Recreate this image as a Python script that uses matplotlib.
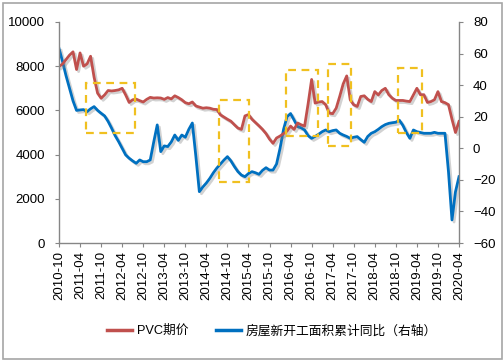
import matplotlib
matplotlib.use("Agg")
import matplotlib.pyplot as plt
import matplotlib.patheffects as pe
from matplotlib.patches import Rectangle
import numpy as np

plt.rcParams['font.family'] = ['Liberation Sans', 'Noto Sans CJK SC', 'DejaVu Sans']

# monthly, index 0 = 2010-10 ... 114 = 2020-04
pvc_price = [7980, 8100, 8300, 8500, 8650, 7850, 8600, 8000, 8100, 8450,
             7500, 6780, 6550, 6700, 6900, 6880, 6900, 6930, 7000, 6700,
             6360, 6480, 6510, 6440, 6380, 6500, 6590, 6560, 6570, 6560,
             6500, 6580, 6520, 6660, 6580, 6480, 6350, 6300, 6380, 6200,
             6150, 6100, 6120, 6100, 6050, 6040, 5800, 5700, 5600, 5510,
             5350, 5200, 5140, 5750, 5810, 5600, 5450, 5300, 5140, 4950,
             4700, 4510, 4750, 4840, 4950, 5060, 5290, 5140, 5430, 5350,
             5290, 6300, 7400, 6330, 6380, 6400, 6260, 5880, 5850, 6100,
             6630, 7200, 7560, 6480, 6250, 6180, 6630, 6660, 6500, 6400,
             6850, 6700, 6900, 7000, 6710, 6550, 6450, 6450, 6450, 6420,
             6400, 6700, 7000, 6710, 6710, 6360, 6400, 6480, 6850, 6400,
             6350, 6260, 5600, 5000, 5500]

housing_yoy = [63.3, 55, 46, 38, 30, 24, 24.3, 24.5, 23.2, 25,
               26.4, 24, 22.2, 20.5, 17, 12.7, 8, 4.2, 0, -4.2,
               -6.3, -8, -9.5, -7.4, -8.5, -8.5, -7.4, 4, 14.8, -2.1,
               1.5, 1.1, 4, 8.4, 5, 8.4, 7, 12, 16, -5,
               -27.5, -24.5, -22, -19, -15.5, -12.5, -10, -7.5, -5.3, -8,
               -11.6, -14.8, -17, -18, -16, -14.8, -15.5, -16.5, -14, -12.3,
               -13.8, -13.8, -10, 0, 12, 20, 22, 17.9, 13.7, 13,
               11.6, 8, 6.3, 7.5, 8.9, 10.5, 11.6, 10.5, 11.2, 11.6,
               9.5, 8.4, 7.5, 6.3, 7, 7.4, 5.5, 3.8, 7.5, 9.5,
               10.5, 12, 13.7, 15, 15.8, 16.2, 16.5, 17.8, 14.5, 10,
               6.3, 11.6, 10.5, 10, 9.5, 9.5, 9.5, 10.1, 9.5, 9.5,
               9.5, -14.8, -45.4, -27.5, -18]

tick_labels = ['2010-10', '2011-04', '2011-10', '2012-04', '2012-10', '2013-04',
               '2013-10', '2014-04', '2014-10', '2015-04', '2015-10', '2016-04',
               '2016-10', '2017-04', '2017-10', '2018-04', '2018-10', '2019-04',
               '2019-10', '2020-04']

# highlight boxes: (start month, end month, low, high) on left axis
box_x0 = [7.8, 45.7, 64.6, 76.7, 96.5]
box_x1 = [21.6, 54.1, 73.8, 83.1, 103.5]
box_lo = [4990, 2750, 4840, 4390, 4990]
box_hi = [7230, 6450, 7850, 8120, 7910]

RED = '#C0504D'
BLUE = '#0070C0'
GOLD = '#F0C020'
AX = '#868686'

fig = plt.figure(figsize=(5.04, 3.63), dpi=100)
fig.patches.append(Rectangle((3/504, 1-359/363), 499/504, 356/363, transform=fig.transFigure,
                             fill=False, edgecolor='#A6A6A6', linewidth=1.2))

ax = fig.add_axes([59/504, 1-243/363, 400/504, 221/363])
ax2 = ax.twinx()
ax.set_zorder(ax2.get_zorder() + 1)
ax.patch.set_visible(False)

x = np.arange(len(pvc_price))
shadow = [pe.SimpleLineShadow(offset=(1.5, -1.5), shadow_color='#808080', alpha=0.35), pe.Normal()]

l2, = ax2.plot(x, housing_yoy, color=BLUE, lw=2.0, path_effects=shadow,
               label='房屋新开工面积累计同比（右轴）')
l1, = ax.plot(x, pvc_price, color=RED, lw=2.0, path_effects=shadow, label='PVC期价')

for a, b, lo, hi in zip(box_x0, box_x1, box_lo, box_hi):
    r = Rectangle((a, lo), b - a, hi - lo, fill=False, edgecolor=GOLD, lw=1.6,
                  linestyle=(0, (3.5, 2.5)), zorder=5)
    ax.add_patch(r)

ax.set_xlim(0, 114)
ax.set_ylim(0, 10000)
ax2.set_ylim(-60, 80)
ax.set_yticks(range(0, 10001, 2000))
ax2.set_yticks(range(-60, 81, 20))
ax.set_xticks(range(0, 115, 6))
ax.set_xticklabels(tick_labels, rotation=90, fontsize=9.5)

for a in (ax, ax2):
    for s in a.spines.values():
        s.set_visible(False)
ax.spines['left'].set_visible(True)
ax.spines['bottom'].set_visible(True)
ax2.spines['right'].set_visible(True)
for s in (ax.spines['left'], ax.spines['bottom'], ax2.spines['right']):
    s.set_color(AX)
    s.set_linewidth(1.0)

ax.tick_params(axis='y', direction='out', length=3, color=AX, labelsize=9.5, pad=7)
ax.tick_params(axis='x', direction='out', length=3, color=AX, labelsize=9.5, pad=3)
ax2.tick_params(axis='y', direction='out', length=3, color=AX, labelsize=9.5, pad=7)

leg = fig.legend(handles=[l1, l2], loc='center', bbox_to_anchor=(0.54, 1-331/363), ncol=2,
                 frameon=False, handlelength=1.9, columnspacing=2.2,
                 handletextpad=0.4, prop={'family': ['Liberation Sans', 'Noto Sans CJK SC'], 'size': 9.2})
for h in leg.get_lines():
    h.set_path_effects([])
    h.set_linewidth(2.5)

fig.savefig('out.png', dpi=100)
